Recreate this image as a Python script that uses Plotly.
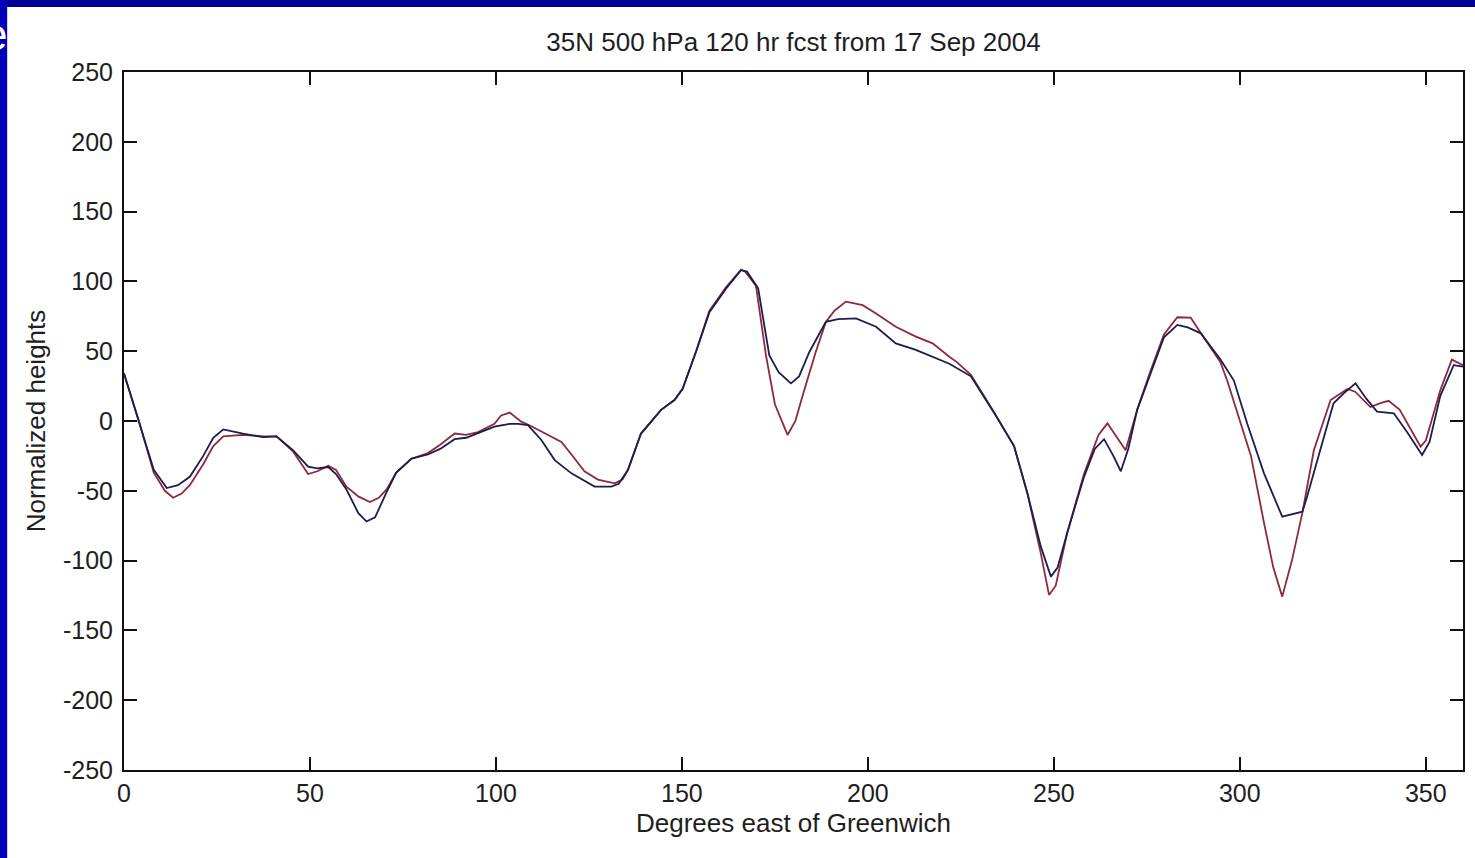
import plotly.graph_objects as go

# longitude (deg east) and normalized 500 hPa heights
lon_navy = [0, 4, 8, 11.5, 14.5, 17.7, 21.3, 24, 26.7, 32, 37.4, 41, 45.5, 49.5, 52, 54.9, 57,
            59.8, 63, 65.2, 67.5, 70.6, 73.2, 77.3, 81.7, 85, 88.9, 92, 95.2, 99.6, 103.7, 106,
            108.6, 112.2, 115.8, 120.3, 126.5, 131, 133, 135.5, 139, 144.4, 148, 150.2, 153.8,
            157.4, 161.9, 165.9, 167.5, 170.5, 173.5, 176, 179.3, 181.5, 184.3, 188.7, 192,
            196.8, 202.2, 207.5, 212.9, 218.3, 221.9, 227.7, 234, 239.3, 242.9, 246.5, 249.2,
            251, 253.6, 258.1, 261, 263.5, 266, 268, 270, 272.4, 276, 279.6, 283.2, 286, 289.5,
            294.8, 298.4, 302, 306.5, 311.4, 316.8, 318, 321.6, 325.2, 328, 331.1, 334, 336.9,
            341.4, 345, 349, 351, 353.9, 357.5, 360]
hgt_navy = [34, 0, -35, -48, -46, -40, -25, -12, -6, -9, -11.5, -11, -21, -32.7, -34, -33, -38,
            -49, -66, -72, -69, -51, -37, -27, -24, -20, -13, -12, -8.4, -4, -2, -2,
            -3, -13.6, -28, -37.5, -47, -47, -45, -35, -9, 8, 15, 23, 49.6,
            78, 95, 108, 107, 95, 47, 35, 27, 32, 49.6, 71, 73,
            73.5, 67.5, 55.6, 51, 45, 41, 32, 5.5, -18, -52, -90, -111.5,
            -105, -80, -40, -20, -13, -25, -36, -20, 8, 34, 60, 68.8, 67, 62.8,
            44, 29, -2, -37.5, -68.5, -65, -55, -21, 12.7, 20, 27, 16, 6.7,
            5.5, -8, -24.4, -15, 18, 40, 39]

lon_red = [0, 4, 8, 11, 13.2, 15.5, 17.7, 21.3, 24, 26.7, 32, 37.4, 41, 45.5, 49.5, 52, 54.9,
           57, 59.8, 63, 66.1, 68.5, 70.6, 73.2, 77.3, 81.7, 85, 88.9, 92, 95.2, 99.6, 101.4,
           103.7, 106.8, 109, 112.2, 117.6, 120.3, 123.8, 127.4, 131.9, 134, 135.5, 139, 144.4,
           148, 150.2, 153.8, 157.4, 161.9, 165.9, 167, 169.9, 172.6, 175, 178.4, 180.5, 182.5,
           186, 188.7, 191, 194.1, 198.6, 202.2, 207.5, 212.9, 217.4, 221.9, 224, 227.7, 234,
           239.3, 242.9, 246.5, 248.7, 250.5, 253.6, 258.1, 262, 264.4, 267, 269.3, 271, 272.4,
           276, 279.6, 283.2, 286.8, 289.5, 294.8, 296.6, 300.2, 303, 306.5, 309, 311.4, 314,
           316.8, 319.9, 324.4, 328.9, 331, 335.1, 338, 340, 343, 348.6, 350, 353.9, 357, 360]
hgt_red = [34, 0, -37, -50, -55, -52, -46, -31, -18, -11, -10, -11, -11, -22, -38, -36, -32,
           -35, -47, -54, -58, -55, -49, -37, -27, -23, -17, -9, -10, -8, -2, 4,
           6, -0.5, -3, -7.6, -15, -24, -36, -42, -44.6, -42, -35, -9, 8,
           15, 23, 50, 79, 96, 108.5, 107, 97, 47, 12, -10, 0, 18.6,
           49.6, 71, 79, 85.5, 83, 77, 67.5, 60.4, 55.6, 46, 42, 33, 6,
           -18, -52, -95, -124.6, -118, -80, -38, -10, -1.7, -12, -21, -5, 8,
           36, 62, 74.3, 74, 63, 42, 29, -1.7, -25, -73, -105, -125.8, -100,
           -66, -21, 15, 23, 21, 10, 13, 14.5, 8, -18.4, -14, 22, 44, 40]

x_ticks = [0, 50, 100, 150, 200, 250, 300, 350]
y_ticks = [-250, -200, -150, -100, -50, 0, 50, 100, 150, 200, 250]
y_labels = [str(v) for v in y_ticks]  # plain hyphen minus, as in the original

font = "Liberation Sans, Arial, sans-serif"
ink = "#1e1e1e"
tick_size = 25
title_size = 26

fig = go.Figure()
fig.add_trace(go.Scatter(x=lon_red, y=hgt_red, mode="lines",
                         line=dict(color="#8c2a3c", width=1.8), name="forecast"))
fig.add_trace(go.Scatter(x=lon_navy, y=hgt_navy, mode="lines",
                         line=dict(color="#1c1c4e", width=1.8), name="analysis"))

axis_common = dict(showgrid=False, zeroline=False, showline=True, linecolor="#111",
                   linewidth=2, mirror="ticks", ticks="inside", ticklen=13, tickwidth=2,
                   tickcolor="#111", tickfont=dict(family=font, size=tick_size, color=ink))

fig.update_xaxes(range=[0, 360], tickvals=x_ticks, ticklabelstandoff=0,
                 title=dict(text="Degrees east of Greenwich", standoff=8,
                            font=dict(family=font, size=title_size, color=ink)),
                 **axis_common)
fig.update_yaxes(range=[-250, 250], tickvals=y_ticks, ticktext=y_labels, ticklabelstandoff=4,
                 title=dict(text="Normalized heights", standoff=10,
                            font=dict(family=font, size=title_size, color=ink)),
                 **axis_common)

# slide background peeking in at the top and left edges
W, H = 1475, 858
L, R, T, B = 124, 10, 72, 88
pw, ph = W - L - R, H - T - B


def px_x(px):
    return (px - L) / pw


def px_y(py):
    return (H - B - py) / ph


fig.update_layout(
    width=W, height=H,
    margin=dict(l=L, r=R, t=T, b=B),
    paper_bgcolor="white", plot_bgcolor="white",
    showlegend=False,
    title=dict(text="35N 500 hPa 120 hr fcst from 17 Sep 2004", x=0.5, xref="paper",
               y=1 - 42 / H, yref="container", yanchor="middle",
               font=dict(family=font, size=title_size, color=ink)),
    shapes=[
        dict(type="rect", xref="paper", yref="paper", x0=px_x(0), x1=px_x(W + 5),
             y0=px_y(7), y1=px_y(-5), fillcolor="#000096", line=dict(width=0), layer="above"),
        dict(type="rect", xref="paper", yref="paper", x0=px_x(-5), x1=px_x(7),
             y0=px_y(H + 5), y1=px_y(0), fillcolor="#0000b8", line=dict(width=0), layer="above"),
    ],
    annotations=[
        dict(text="e", xref="paper", yref="paper", x=px_x(9), y=px_y(34), xanchor="right",
             yanchor="middle", showarrow=False,
             font=dict(family=font, size=44, color="white")),
    ],
)

fig.write_html("out.html", config={"displayModeBar": False},
               post_script="document.body.style.margin='0';")
